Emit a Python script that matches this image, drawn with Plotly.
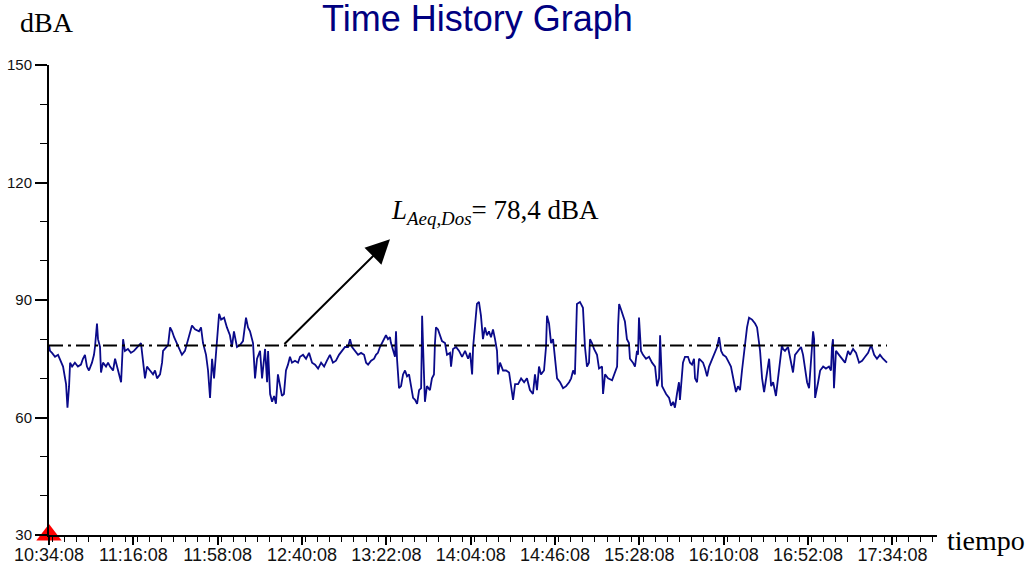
import pandas as pd
import plotly.graph_objects as go

# Sound level time history, one reading roughly every 30-60 s
start = pd.Timestamp("2000-01-01 10:34:08")

elapsed_min = [
    0.0, 0.5, 1.5, 3.0, 4.5, 6.0, 7.0, 8.5, 9.2, 10.0, 10.5, 11.5, 12.9, 14.4, 15.9, 16.9,
    17.9, 18.9, 19.9, 21.4, 22.4, 22.9, 23.4, 23.9, 24.4, 25.4, 25.9, 26.9, 28.4, 29.4, 30.4,
    31.9, 32.9, 33.9, 35.9, 36.9, 37.8, 39.3, 40.8, 42.3, 44.3, 45.8, 47.8, 48.8, 50.3, 51.8,
    52.8, 53.8, 55.3, 56.3, 56.8, 58.3, 59.3, 60.3, 61.3, 62.3, 63.7, 65.2, 66.2, 67.7, 68.7,
    70.2, 71.2, 72.7, 74.7, 75.7, 76.7, 78.2, 79.2, 80.2, 81.2, 82.2, 83.2, 84.7, 85.7, 87.2,
    88.6, 90.1, 91.1, 92.1, 93.6, 95.1, 96.6, 98.1, 99.1, 100.1, 101.6, 102.6, 103.6,
    105.1, 106.1, 107.6, 108.6, 109.1, 110.1, 111.1, 112.1, 113.0, 114.0, 115.0, 116.0, 117.0,
    118.0, 119.0, 120.0, 121.0, 122.5, 124.0, 125.0, 126.5, 128.0, 129.5, 131.0, 132.5, 134.0,
    135.5, 137.0, 138.4, 139.9, 141.4, 142.9, 144.4, 145.9, 147.4, 148.9, 149.9, 150.9, 152.4,
    153.9, 155.4, 156.9, 157.9, 158.9, 160.4, 161.9, 162.8, 163.8, 164.8, 165.8, 166.8, 167.8,
    168.8, 169.8, 170.3, 171.3, 172.3, 172.8, 173.3, 174.3, 175.3, 176.3, 177.3, 178.3, 179.3,
    180.3, 181.3, 182.3, 183.3, 184.3, 185.3, 185.6, 185.8, 186.8, 187.2, 188.2, 189.7, 190.7,
    191.7, 192.2, 192.7, 193.7, 194.7, 195.7, 197.2, 198.2, 199.7, 200.2, 201.2, 202.7, 204.2,
    205.7, 207.2, 208.7, 209.7, 210.7, 211.2, 212.1, 213.1, 214.1, 214.6, 215.1, 216.1, 217.1,
    218.1, 219.1, 220.1, 221.1, 222.1, 223.1, 223.6, 224.6, 226.1, 227.6, 229.1, 230.1, 231.1,
    232.1, 233.6, 235.1, 236.6, 238.0, 239.5, 241.0, 242.0, 243.0, 244.0, 245.0, 246.5, 247.5,
    248.0, 249.0, 250.0, 251.0, 252.0, 253.0, 254.5, 256.0, 257.5, 259.0, 260.0, 261.0, 261.9,
    262.4, 262.9, 264.4, 265.9, 266.9, 267.9, 268.9, 269.4, 270.4, 271.4, 272.9, 273.9, 275.4,
    275.9, 276.9, 278.4, 280.4, 281.4, 282.9, 283.4, 283.9, 284.9, 285.9, 286.8, 287.8, 288.8,
    289.3, 290.8, 291.8, 292.8, 293.3, 293.8, 294.8, 295.8, 297.3, 298.8, 300.3, 301.8, 302.8,
    303.8, 304.3, 305.3, 306.3, 307.3, 308.8, 309.8, 310.8, 311.7, 312.7, 313.7, 314.2, 315.2,
    315.7, 316.7, 318.2, 319.2, 320.2, 321.2, 321.7, 322.7, 323.7, 324.7, 325.7, 326.7, 327.7,
    328.7, 330.2, 331.2, 332.7, 333.7, 334.7, 335.7, 337.1, 338.6, 339.6, 341.1, 342.1, 343.1,
    344.1, 345.1, 346.1, 347.6, 348.6, 350.1, 351.6, 352.6, 354.1, 355.1, 356.1, 357.6, 358.6,
    359.6, 360.6, 362.0, 363.0, 364.0, 365.0, 365.5, 366.5, 368.0, 369.5, 370.5, 371.5, 373.0,
    374.5, 375.5, 376.5, 377.5, 378.5, 379.5, 380.5, 381.0, 381.5, 383.0, 384.0, 385.5, 386.9,
    388.4, 389.4, 389.9, 390.4, 390.9, 391.9, 393.4, 394.9, 396.4, 397.9, 398.9, 400.4, 401.9,
    403.4, 404.9, 406.4, 407.9, 409.4, 410.9, 412.3, 413.8, 415.3, 417.3,
]

level_dba = [
    78.5, 77, 76.5, 75.5, 76, 74, 73, 68.5, 62.5, 68, 74, 73, 74, 73, 73.5, 75,
    76, 73, 72, 74, 76, 78, 81, 84, 80, 78, 71.5, 74, 73, 74, 73,
    72, 75, 73, 69, 80, 77, 77.5, 76.5, 77, 78, 79, 70, 73, 72, 71,
    72, 70, 71, 74, 77, 78, 78.5, 83, 82, 80.5, 79, 77, 76, 77, 79,
    82, 83.5, 82.5, 82, 83, 79, 76, 72, 65, 75, 70, 77.5, 86.5, 85, 85.5,
    83, 81, 78, 82, 78, 78.5, 79.5, 85.5, 83, 82, 79, 70, 75,
    77, 70, 77.5, 69, 77, 66, 64, 65.5, 63.5, 71, 68, 65.5, 66,
    72, 73.5, 75.5, 74, 74.5, 74, 75.5, 76, 75, 76.5, 74, 73.5, 72.5,
    74, 73, 74.5, 76, 74, 74.5, 76, 77, 78, 78, 80, 78, 77,
    76, 76.5, 76, 74, 73.5, 74.5, 75, 76, 76.5, 78, 79, 80, 81,
    80, 80.5, 79, 77, 75.5, 82, 75, 67.5, 68, 71, 72, 70.5, 71,
    68, 65, 64.5, 63.5, 67, 67.5, 77, 86, 70, 64, 68, 67, 70,
    71, 79, 83, 82.5, 81, 79.5, 79, 76, 76.5, 73, 77.5, 78, 77,
    75.5, 77, 75, 76.5, 71, 78, 84, 89, 89.5, 88, 86, 80, 83,
    81, 82, 80.5, 82.5, 80, 77, 71, 74, 72, 72, 71.5, 68, 64.5,
    68.5, 68.5, 70, 69, 70, 67, 66, 71, 67, 73, 71, 72, 78,
    86, 84, 79, 80, 74, 70, 69, 67.5, 68, 69, 70, 72, 71,
    80, 89, 89.5, 88, 78, 73, 74, 80, 79, 77.5, 76, 72.5, 73,
    66, 71, 70, 69.5, 71, 73, 83.5, 89, 87.5, 86, 84.5, 80, 79,
    75, 74, 73, 77, 76, 85.5, 77, 76, 75, 75.5, 74, 73, 68,
    70, 81, 68, 67, 66, 65, 63, 64, 62.5, 66, 69, 64.5, 71,
    74, 75.5, 75.5, 74, 73.5, 75, 70, 69, 75, 74.5, 74, 72.5, 70.5,
    73, 75, 76, 78, 80.5, 77, 76, 75.5, 74, 73, 69, 66.5, 68,
    67, 72, 77, 83, 85.5, 85, 84, 83, 77, 70, 66.5, 71, 75,
    68, 69, 65.5, 70, 73, 78.5, 77.5, 77, 78, 74, 71.5, 76, 77,
    78, 76, 72, 69, 67.5, 74, 82, 80, 65, 69, 72, 73, 72.5,
    73, 72, 78, 80, 67.5, 77, 76, 75, 74, 77, 76, 77.5, 76.5,
    74, 74.5, 75.5, 76.5, 78.5, 76, 75, 76, 75, 74,
]

laeq_dos = 78.4
y_major_ticks = [30, 60, 90, 120, 150]
y_minor_ticks = [40, 50, 70, 80, 100, 110, 130, 140]
x_tick_step_min = 42
x_minor_step_min = 6
axis_span_min = 442.2

times = start + pd.to_timedelta(elapsed_min, unit="min")
end_of_axis = start + pd.Timedelta(minutes=axis_span_min)

fig = go.Figure()

fig.add_trace(go.Scatter(
    x=times, y=level_dba, mode="lines",
    line=dict(color="#0a0a8a", width=1.8),
    hoverinfo="skip", showlegend=False,
))

fig.add_trace(go.Scatter(
    x=[times[0], times[-1]], y=[laeq_dos, laeq_dos], mode="lines",
    line=dict(color="black", width=2, dash="14px,5px,3px,5px"),
    hoverinfo="skip", showlegend=False,
))

# start-of-run marker at the origin
fig.add_trace(go.Scatter(
    x=[start], y=[30], mode="markers",
    marker=dict(symbol="triangle-up", size=22, color="#ff0000"),
    cliponaxis=False, hoverinfo="skip", showlegend=False,
))

laeq_text = f"{laeq_dos:.1f}".replace(".", ",")

fig.add_annotation(
    x=start + pd.Timedelta(minutes=169.8), y=105.5,
    ax=start + pd.Timedelta(minutes=116.5), ay=laeq_dos,
    xref="x", yref="y", axref="x", ayref="y",
    text="", showarrow=True, arrowhead=2, arrowsize=2.4, arrowwidth=2,
    arrowcolor="black", standoff=0,
)

fig.add_annotation(
    x=0.502, y=0.687, xref="paper", yref="paper",
    text=f"<i>L</i><sub><i>Aeq,Dos</i></sub>= {laeq_text} dBA",
    showarrow=False, xanchor="center", yanchor="middle",
    font=dict(family="Liberation Serif", size=27, color="black"),
)

fig.add_annotation(
    x=0.482, y=1.099, xref="paper", yref="paper",
    text="Time History Graph", showarrow=False,
    xanchor="center", yanchor="middle",
    font=dict(family="Liberation Sans", size=36, color="#000080"),
)

fig.add_annotation(
    x=-0.002, y=1.091, xref="paper", yref="paper",
    text="dBA", showarrow=False, xanchor="center", yanchor="middle",
    font=dict(family="Liberation Serif", size=28, color="black"),
)

fig.add_annotation(
    x=1.055, y=-0.011, xref="paper", yref="paper",
    text="tiempo", showarrow=False, xanchor="center", yanchor="middle",
    font=dict(family="Liberation Serif", size=28, color="black"),
)

fig.update_xaxes(
    type="date", range=[start, end_of_axis], automargin=False,
    tick0=start, dtick=x_tick_step_min * 60 * 1000, tickformat="%H:%M:%S",
    ticks="outside", ticklen=8, tickwidth=1.5, tickcolor="black",
    ticklabelstandoff=-6,
    minor=dict(dtick=x_minor_step_min * 60 * 1000, ticks="outside", ticklen=5,
               tickwidth=1.2, tickcolor="black", showgrid=False),
    showline=True, linecolor="black", linewidth=2,
    showgrid=False, zeroline=False,
    tickfont=dict(family="Liberation Sans", size=18, color="#111"),
)

fig.update_yaxes(
    range=[30, 150], tickvals=y_major_ticks, automargin=False,
    ticks="outside", ticklen=12, tickwidth=1.5, tickcolor="black",
    minor=dict(tickvals=y_minor_ticks, ticks="outside",
               ticklen=7, tickwidth=1.2, tickcolor="black", showgrid=False),
    showline=True, linecolor="black", linewidth=2,
    showgrid=False, zeroline=False,
    tickfont=dict(family="Liberation Sans", size=15, color="#111"),
)

fig.update_layout(
    width=1034, height=566,
    margin=dict(l=49, r=97, t=65, b=31),
    plot_bgcolor="white", paper_bgcolor="white",
)

fig.write_html("out.html")
